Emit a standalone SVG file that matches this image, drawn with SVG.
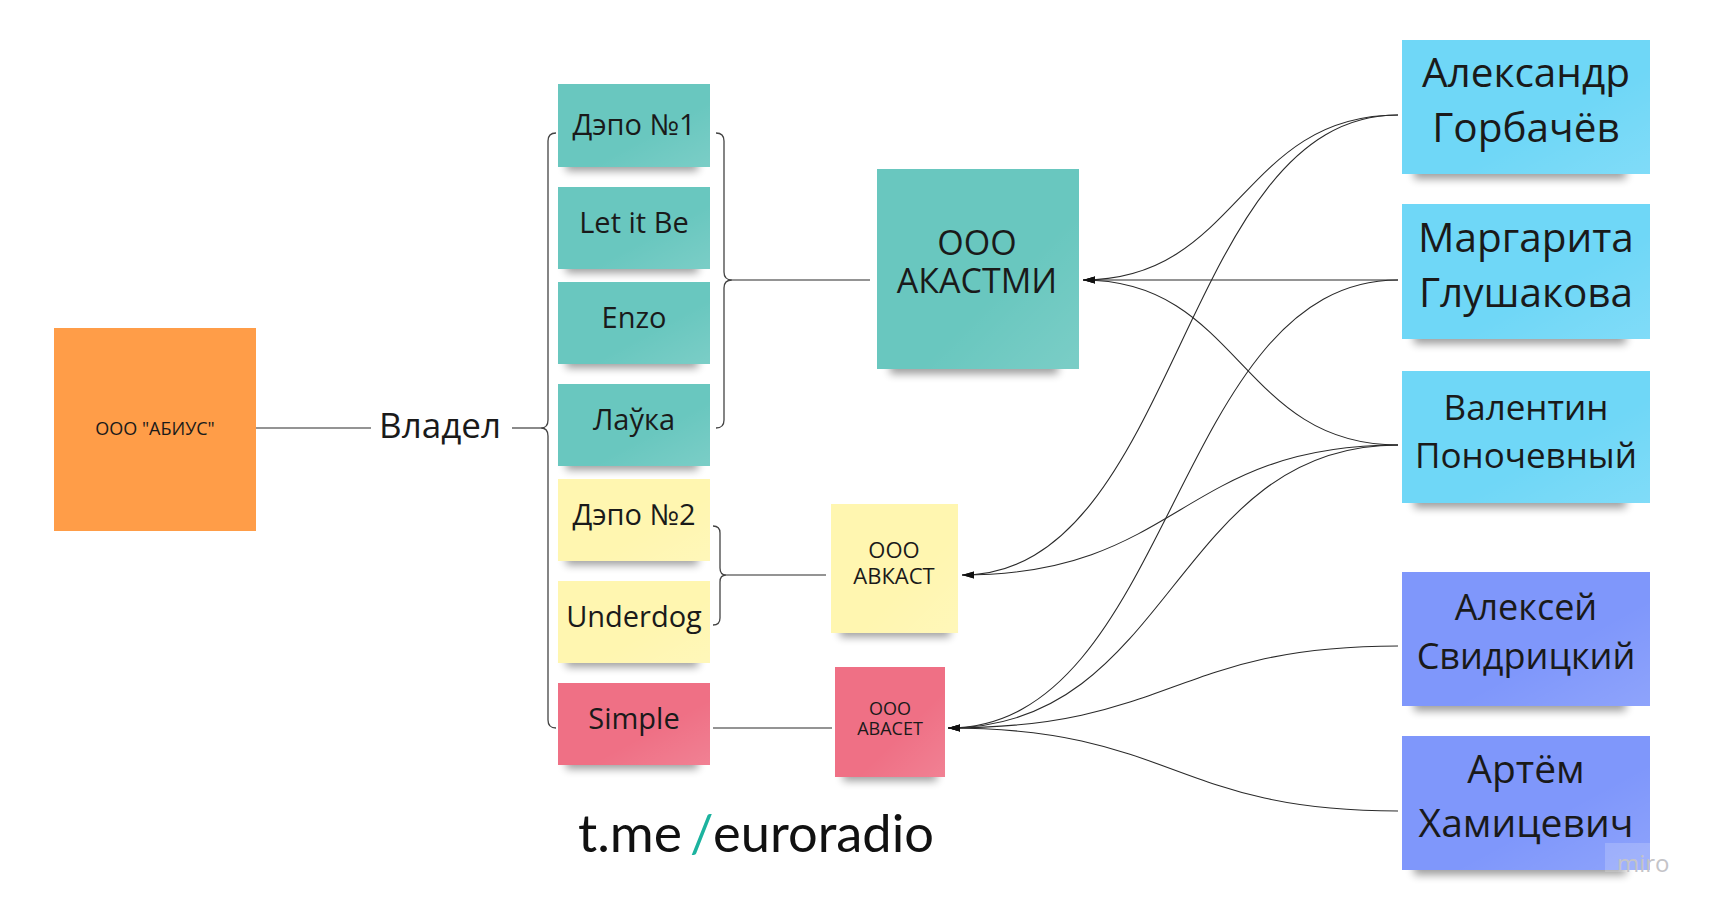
<svg xmlns="http://www.w3.org/2000/svg" width="1712" height="912" viewBox="0 0 1712 912">
<style>
.t{font-family:"Open Sans","Noto Sans","DejaVu Sans",sans-serif;fill:#1a1a1a;text-anchor:middle}
.sh{fill:#000;opacity:.38;filter:url(#blur)}
.ln{fill:none;stroke:#2a2a2a;stroke-width:1.1}
.br{fill:none;stroke:#444;stroke-width:1.3}
.teal{fill:#69c7bf}.yel{fill:#fff6b0}.pink{fill:#ef7085}.lb{fill:#6fd7f7}.vb{fill:#7f97fb}
.gl{fill:url(#gloss)}
</style>
<defs>
<filter id="blur" x="-20%" y="-100%" width="140%" height="300%"><feGaussianBlur stdDeviation="4"/></filter>
<linearGradient id="gloss" x1="0" y1="0" x2="1" y2="1"><stop offset="0.6" stop-color="#fff" stop-opacity="0"/><stop offset="1" stop-color="#fff" stop-opacity="0.12"/></linearGradient>
<marker id="ar" markerUnits="userSpaceOnUse" markerWidth="14" markerHeight="10" viewBox="0 -5 14 10" refX="12" refY="0" orient="auto"><path d="M0,-3.5 L12,0 L0,3.5 z" fill="#111"/></marker>
</defs>
<rect width="1712" height="912" fill="#fff"/>

<g id="abius">
<rect x="54" y="328" width="202" height="203" fill="#ff9d48"/>
<text class="t" x="155" y="435" font-size="18">ООО "АБИУС"</text>
</g>

<g id="vladel">
<text class="t" x="440" y="438" font-size="35">Владел</text>
</g>

<g id="connectors">
<line class="ln" x1="256" y1="428" x2="371" y2="428"/>
<line class="ln" x1="512" y1="428" x2="541" y2="428"/>
<path class="br" d="M556,133 Q548,133 548,141 L548,420 Q548,428 541,428 Q548,428 548,436 L548,720 Q548,728 556,728"/>
<path class="br" d="M716,133 Q724,133 724,141 L724,272 Q724,280 732,280 Q724,280 724,288 L724,420 Q724,428 716,428"/>
<line class="ln" x1="732" y1="280" x2="870" y2="280"/>
<path class="br" d="M713,526 Q720,526 720,533 L720,568 Q720,575 726,575 Q720,575 720,582 L720,618 Q720,625 713,625"/>
<line class="ln" x1="726" y1="575" x2="826" y2="575"/>
<line class="ln" x1="713" y1="728" x2="832" y2="728"/>

<path class="ln" marker-end="url(#ar)" d="M1398,115 C1240,115 1240,280 1083,280"/>
<path class="ln" marker-end="url(#ar)" d="M1398,280 L1083,280"/>
<path class="ln" marker-end="url(#ar)" d="M1398,445 C1240,445 1240,280 1083,280"/>
<path class="ln" marker-end="url(#ar)" d="M1398,115 C1180,115 1180,575 962,575"/>
<path class="ln" marker-end="url(#ar)" d="M1398,445 C1180,445 1180,575 962,575"/>
<path class="ln" marker-end="url(#ar)" d="M1398,280 C1173,280 1173,728 948,728"/>
<path class="ln" marker-end="url(#ar)" d="M1398,445 C1173,445 1173,728 948,728"/>
<path class="ln" marker-end="url(#ar)" d="M1398,646 C1173,646 1173,728 948,728"/>
<path class="ln" marker-end="url(#ar)" d="M1398,811 C1173,811 1173,728 948,728"/>
</g>

<g id="depo1">
<rect class="sh" x="566" y="157" width="132" height="14"/>
<rect class="teal" x="558" y="84" width="152" height="83"/><rect class="gl" x="558" y="84" width="152" height="83"/>
<text class="t" x="634" y="135" font-size="29">Дэпо №1</text>
</g>
<g id="letitbe">
<rect class="sh" x="566" y="259" width="132" height="14"/>
<rect class="teal" x="558" y="187" width="152" height="82"/><rect class="gl" x="558" y="187" width="152" height="82"/>
<text class="t" x="634" y="233" font-size="29">Let it Be</text>
</g>
<g id="enzo">
<rect class="sh" x="566" y="354" width="132" height="14"/>
<rect class="teal" x="558" y="282" width="152" height="82"/><rect class="gl" x="558" y="282" width="152" height="82"/>
<text class="t" x="634" y="328" font-size="29">Enzo</text>
</g>
<g id="layka">
<rect class="sh" x="566" y="456" width="132" height="14"/>
<rect class="teal" x="558" y="384" width="152" height="82"/><rect class="gl" x="558" y="384" width="152" height="82"/>
<text class="t" x="634" y="430" font-size="29">Лаўка</text>
</g>
<g id="depo2">
<rect class="sh" x="566" y="551" width="132" height="14"/>
<rect class="yel" x="558" y="479" width="152" height="82"/><rect class="gl" x="558" y="479" width="152" height="82"/>
<text class="t" x="634" y="525" font-size="29">Дэпо №2</text>
</g>
<g id="underdog">
<rect class="sh" x="566" y="653" width="132" height="14"/>
<rect class="yel" x="558" y="581" width="152" height="82"/><rect class="gl" x="558" y="581" width="152" height="82"/>
<text class="t" x="634" y="627" font-size="29">Underdog</text>
</g>
<g id="simple">
<rect class="sh" x="566" y="755" width="132" height="14"/>
<rect class="pink" x="558" y="683" width="152" height="82"/><rect class="gl" x="558" y="683" width="152" height="82"/>
<text class="t" x="634" y="729" font-size="29">Simple</text>
</g>

<g id="akastmi">
<rect class="sh" x="890" y="356" width="168" height="18"/>
<rect class="teal" x="877" y="169" width="202" height="200"/><rect class="gl" x="877" y="169" width="202" height="200"/>
<text class="t" font-size="34"><tspan x="977" y="255">ООО</tspan><tspan x="977" y="293">АКАСТМИ</tspan></text>
</g>
<g id="avkast">
<rect class="sh" x="840" y="621" width="110" height="16"/>
<rect class="yel" x="831" y="504" width="127" height="129"/><rect class="gl" x="831" y="504" width="127" height="129"/>
<text class="t" font-size="22"><tspan x="894" y="558">ООО</tspan><tspan x="894" y="584">АВКАСТ</tspan></text>
</g>
<g id="avaset">
<rect class="sh" x="843" y="765" width="94" height="16"/>
<rect class="pink" x="835" y="667" width="110" height="110"/><rect class="gl" x="835" y="667" width="110" height="110"/>
<text class="t" font-size="18"><tspan x="890" y="715">ООО</tspan><tspan x="890" y="735">АВАСЕТ</tspan></text>
</g>

<g id="gorbachev">
<rect class="sh" x="1414" y="163" width="212" height="16"/>
<rect class="lb" x="1402" y="40" width="248" height="134"/><rect class="gl" x="1402" y="40" width="248" height="134"/>
<text class="t" x="1526" y="87" font-size="40.5">Александр</text>
<text class="t" x="1526" y="142" font-size="40.5">Горбачёв</text>
</g>
<g id="glushakova">
<rect class="sh" x="1414" y="328" width="212" height="16"/>
<rect class="lb" x="1402" y="204" width="248" height="135"/><rect class="gl" x="1402" y="204" width="248" height="135"/>
<text class="t" x="1526" y="252" font-size="40.5">Маргарита</text>
<text class="t" x="1526" y="307" font-size="40.5">Глушакова</text>
</g>
<g id="ponochevny">
<rect class="sh" x="1414" y="492" width="212" height="16"/>
<rect class="lb" x="1402" y="371" width="248" height="132"/><rect class="gl" x="1402" y="371" width="248" height="132"/>
<text class="t" x="1526" y="420" font-size="35">Валентин</text>
<text class="t" x="1526" y="468" font-size="35">Поночевный</text>
</g>
<g id="svidritsky">
<rect class="sh" x="1414" y="695" width="212" height="16"/>
<rect class="vb" x="1402" y="572" width="248" height="134"/><rect class="gl" x="1402" y="572" width="248" height="134"/>
<text class="t" x="1526" y="620" font-size="36">Алексей</text>
<text class="t" x="1526" y="669" font-size="36">Свидрицкий</text>
</g>
<g id="khamitsevich">
<rect class="sh" x="1414" y="859" width="212" height="16"/>
<rect class="vb" x="1402" y="736" width="248" height="134"/><rect class="gl" x="1402" y="736" width="248" height="134"/>
<text class="t" x="1526" y="783" font-size="39">Артём</text>
<text class="t" x="1526" y="837" font-size="39">Хамицевич</text>
</g>

<g id="logo" font-family="Lato,'Open Sans',sans-serif" font-size="52">
<text x="578" y="852" fill="#111" textLength="104" lengthAdjust="spacingAndGlyphs">t.me</text>
<text x="690" y="852" fill="#1cb39f">/</text>
<text x="713" y="852" fill="#111" textLength="221" lengthAdjust="spacingAndGlyphs">euroradio</text>
</g>

<g id="watermark">
<rect x="1605" y="843" width="45" height="29" fill="#fff" opacity="0.18"/>
<text x="1617" y="872" font-family="'Open Sans',sans-serif" font-size="24" fill="#c4c4c8">miro</text>
</g>
</svg>
